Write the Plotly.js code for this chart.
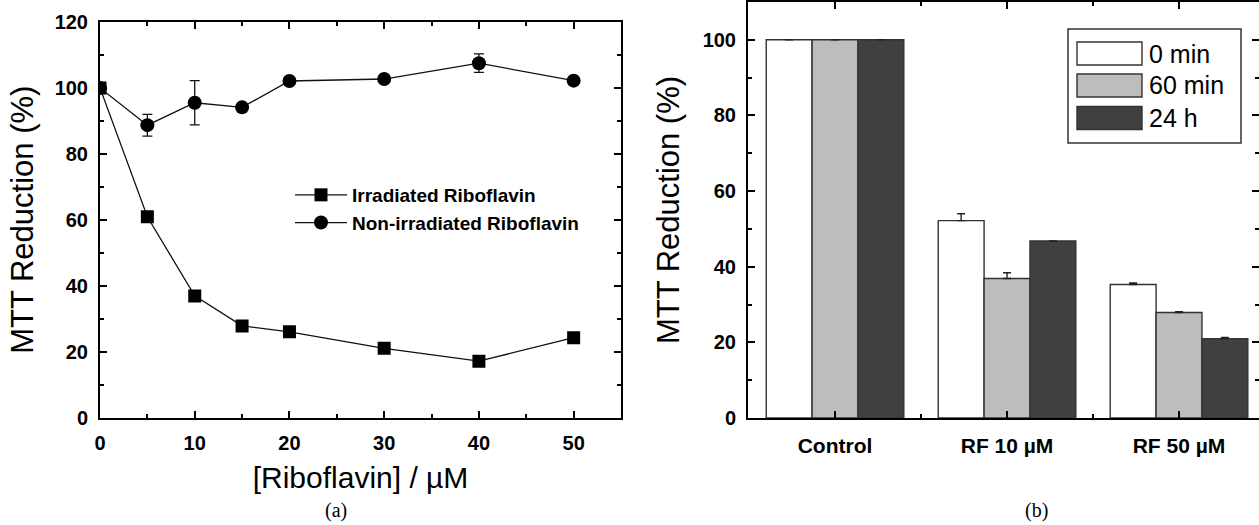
<!DOCTYPE html>
<html>
<head>
<meta charset="utf-8">
<script src="https://cdn.plot.ly/plotly-3.0.1.min.js"></script>
<style>
  html, body { margin: 0; padding: 0; background: #ffffff; }
  #chart { width: 1259px; height: 525px; }
</style>
</head>
<body>
<div id="chart"></div>
<script>
// ---- Panel (a) data ----
const concentrations = [0, 5, 10, 15, 20, 30, 40, 50];
const irradiated = [100, 60.9, 36.9, 27.8, 26.0, 21.0, 17.1, 24.2];
const nonIrradiated = [100, 88.7, 95.5, 94.1, 102.1, 102.7, 107.5, 102.2];
const nonIrradiatedErr = [0, 3.3, 6.7, 0, 0, 0, 2.8, 0];
const seriesNamesA = ["Irradiated Riboflavin", "Non-irradiated Riboflavin"];

// ---- Panel (b) data ----
const groups = ["Control", "RF 10 \u00B5M", "RF 50 \u00B5M"];
const timeNames = ["0 min", "60 min", "24 h"];
const values0min = [100, 52.2, 35.3];
const values60min = [100, 36.9, 27.9];
const values24h = [100, 46.8, 21.0];
const err0min = [0, 1.8, 0.4];
const err60min = [0, 1.5, 0.2];
const err24h = [0, 0, 0.3];

const W = 1259, H = 525;
const px = x => x / W;
const py = y => 1 - y / H;
const noZero = arr => arr.map(v => (v > 0 ? v : null));

const FONT = "Liberation Sans, Arial, sans-serif";
const barColors = ["#ffffff", "#bdbdbd", "#404040"];
const groupIdx = groups.map((g, i) => i);

const traces = [
  {
    x: concentrations, y: irradiated, name: seriesNamesA[0],
    type: "scatter", mode: "lines+markers",
    line: {color: "#111111", width: 1.3},
    marker: {symbol: "square", size: 13, color: "#000000"},
    xaxis: "x", yaxis: "y"
  },
  {
    x: concentrations, y: nonIrradiated, name: seriesNamesA[1],
    type: "scatter", mode: "lines+markers",
    line: {color: "#111111", width: 1.3},
    marker: {symbol: "circle", size: 14, color: "#000000"},
    error_y: {type: "data", array: noZero(nonIrradiatedErr), visible: true, color: "#111111", thickness: 1.3, width: 5},
    xaxis: "x", yaxis: "y"
  }
];

const barVals = [values0min, values60min, values24h];
const barErrs = [err0min, err60min, err24h];
timeNames.forEach((n, i) => {
  traces.push({
    x: groupIdx, y: barVals[i], name: n, type: "bar",
    marker: {color: barColors[i], line: {color: "#333333", width: 1.4}},
    error_y: {type: "data", array: noZero(barErrs[i]), arrayminus: barErrs[i].map(() => 0),
              visible: true, color: "#222222", thickness: 1.4, width: 4},
    xaxis: "x2", yaxis: "y2", showlegend: false
  });
});

const tickFont = {family: FONT, size: 20, color: "#000000", weight: "bold"};
const titleFont = {family: FONT, size: 31, color: "#000000"};

const axisCommon = {
  showline: true, linecolor: "#000000", linewidth: 2,
  mirror: "ticks", ticks: "inside", ticklen: 7, tickwidth: 2, tickcolor: "#000000",
  showgrid: false, zeroline: false, tickfont: tickFont
};

// right-panel custom legend (wide swatches)
const legShapes = [];
const legAnn = [];
legShapes.push({type: "rect", xref: "paper", yref: "paper",
  x0: px(1068), x1: px(1241), y0: py(143), y1: py(29),
  line: {color: "#333333", width: 1.5}, fillcolor: "#ffffff", layer: "above"});
const rowCenters = [53.5, 85.5, 118];
timeNames.forEach((n, i) => {
  legShapes.push({type: "rect", xref: "paper", yref: "paper",
    x0: px(1077), x1: px(1142), y0: py(rowCenters[i] + 11.5), y1: py(rowCenters[i] - 11.5),
    line: {color: "#333333", width: 1.4}, fillcolor: barColors[i], layer: "above"});
  legAnn.push({xref: "paper", yref: "paper", x: px(1147), y: py(rowCenters[i]),
    xanchor: "left", yanchor: "middle", showarrow: false, text: n,
    font: {family: FONT, size: 25, color: "#000000"}});
});

const layout = {
  width: W, height: H,
  margin: {l: 0, r: 0, t: 0, b: 0},
  paper_bgcolor: "#ffffff", plot_bgcolor: "#ffffff",
  showlegend: true,
  legend: {
    x: px(290), y: py(176), xanchor: "left", yanchor: "top",
    bgcolor: "rgba(0,0,0,0)", borderwidth: 0,
    font: {family: FONT, size: 19, color: "#000000", weight: "bold"},
    itemwidth: 52, tracegroupgap: 0
  },
  bargap: 0.2, bargroupgap: 0, barmode: "group",
  xaxis: Object.assign({}, axisCommon, {
    domain: [px(100), px(621)], range: [0, 55], dtick: 10, tick0: 0,
    minor: {dtick: 5, tick0: 0, ticks: "inside", ticklen: 4, tickwidth: 2, tickcolor: "#000000"},
    anchor: "y", ticklabelstandoff: 6,
    title: {text: "[Riboflavin] / \u00B5M", font: {family: FONT, size: 30, color: "#000000"}, standoff: 14}
  }),
  yaxis: Object.assign({}, axisCommon, {
    domain: [py(417.5), py(22)], range: [0, 120], dtick: 20, tick0: 0,
    minor: {dtick: 10, tick0: 0, ticks: "inside", ticklen: 4, tickwidth: 2, tickcolor: "#000000"},
    anchor: "x", ticklabelstandoff: 6,
    title: {text: "MTT Reduction (%)", font: titleFont, standoff: 12}
  }),
  xaxis2: Object.assign({}, axisCommon, {
    domain: [px(748), 1], range: [-0.506, 2.465],
    tickmode: "array", tickvals: groupIdx, ticktext: groups,
    minor: {tickmode: "array", tickvals: [0.5, 1.5], ticks: "inside", ticklen: 4, tickwidth: 2, tickcolor: "#000000"},
    anchor: "y2", ticklabelstandoff: 8,
    tickfont: {family: FONT, size: 21, color: "#000000", weight: "bold"}
  }),
  yaxis2: Object.assign({}, axisCommon, {
    domain: [py(418), py(2)], range: [0, 110], dtick: 20, tick0: 0,
    minor: {dtick: 10, tick0: 0, ticks: "inside", ticklen: 4, tickwidth: 2, tickcolor: "#000000"},
    anchor: "x2", ticklabelstandoff: 6,
    title: {text: "MTT Reduction (%)", font: titleFont, standoff: 14}
  }),
  shapes: legShapes,
  annotations: legAnn.concat([
    {xref: "paper", yref: "paper", x: px(336), y: py(510), xanchor: "center", yanchor: "middle",
     showarrow: false, text: "(a)", font: {family: "Liberation Serif, Times New Roman, serif", size: 20, color: "#000000"}},
    {xref: "paper", yref: "paper", x: px(1036), y: py(510), xanchor: "center", yanchor: "middle",
     showarrow: false, text: "(b)", font: {family: "Liberation Serif, Times New Roman, serif", size: 20, color: "#000000"}}
  ])
};

Plotly.newPlot("chart", traces, layout, {staticPlot: true, displayModeBar: false});
</script>
</body>
</html>
